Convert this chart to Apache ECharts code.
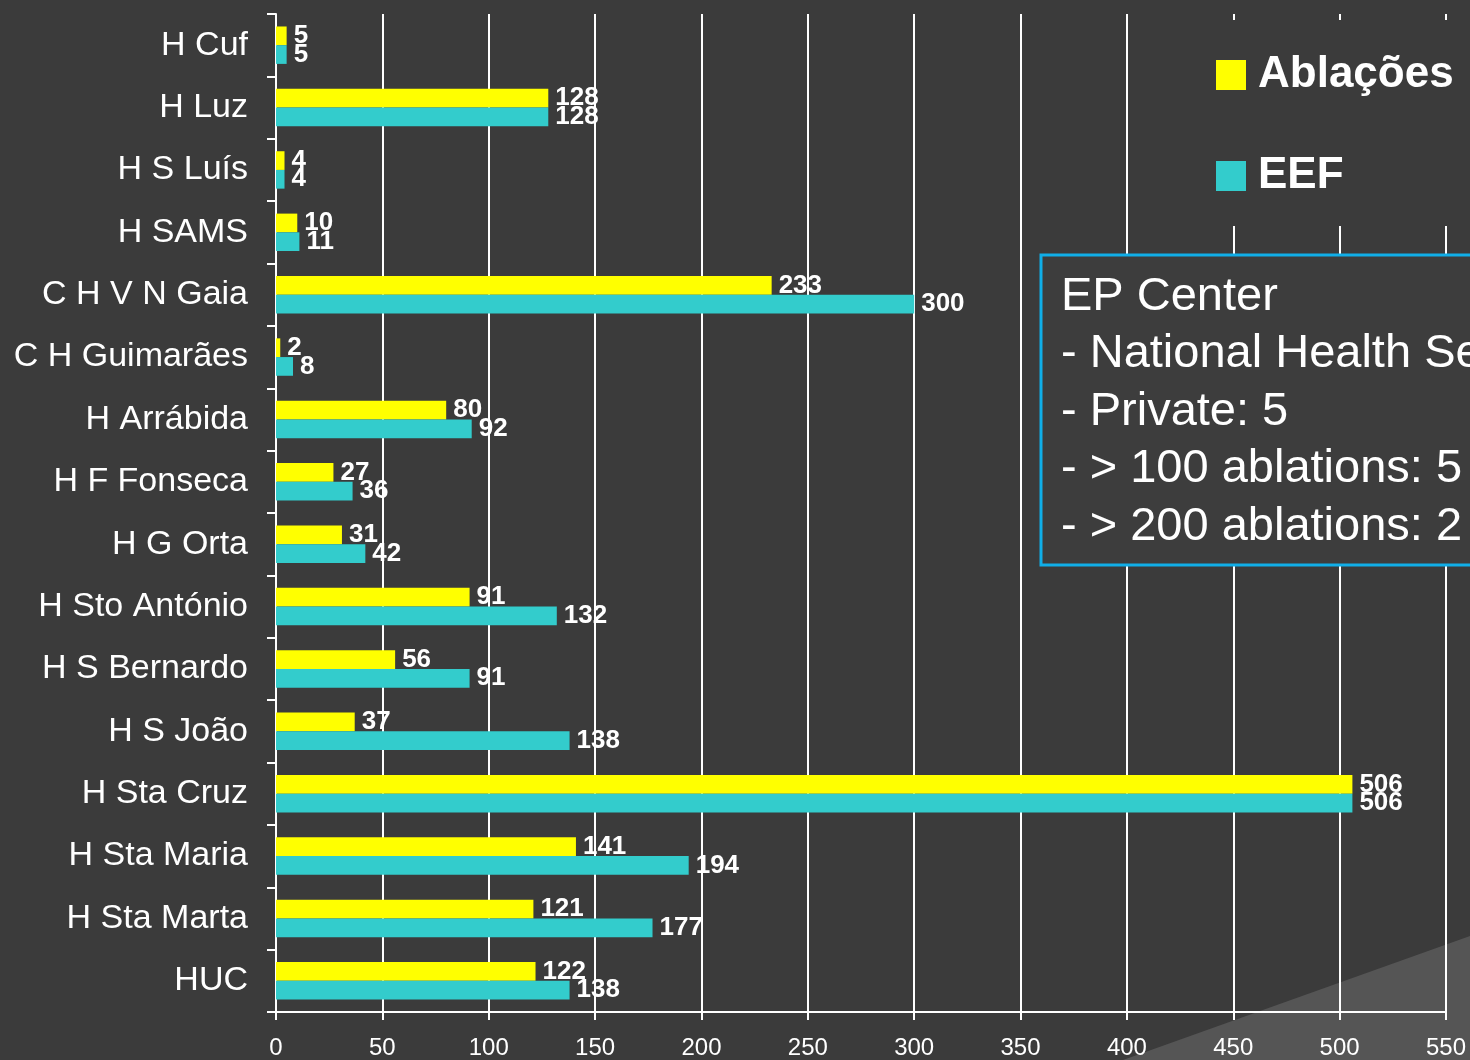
<!DOCTYPE html>
<html>
<head>
<meta charset="utf-8">
<script src="https://cdn.jsdelivr.net/npm/echarts@6/dist/echarts.min.js"></script>
<style>
  html, body { margin: 0; padding: 0; background: #3b3b3b; }
  #chart { width: 1470px; height: 1060px; }
</style>
</head>
<body>
<div id="chart"></div>
<script>
var hospitals = ['H Cuf', 'H Luz', 'H S Luís', 'H SAMS', 'C H V N Gaia', 'C H Guimarães',
    'H Arrábida', 'H F Fonseca', 'H G Orta', 'H Sto António', 'H S Bernardo',
    'H S João', 'H Sta Cruz', 'H Sta Maria', 'H Sta Marta', 'HUC'];
var ablacoes = [5, 128, 4, 10, 233, 2, 80, 27, 31, 91, 56, 37, 506, 141, 121, 122];
var eef = [5, 128, 4, 11, 300, 8, 92, 36, 42, 132, 91, 138, 506, 194, 177, 138];
var infoLines = ['EP Center', '- National Health Service: 11', '- Private: 5',
    '- > 100 ablations: 5', '- > 200 ablations: 2'];

var font = 'Liberation Sans, Arial, sans-serif';

function valueLabel() {
    return {
        show: true,
        position: 'right',
        distance: 7,
        color: '#fff',
        fontSize: 26,
        fontWeight: 'bold',
        fontFamily: font
    };
}

var chart = echarts.init(document.getElementById('chart'));
chart.setOption({
    backgroundColor: '#3b3b3b',
    animation: false,
    textStyle: { fontFamily: font },
    legend: {
        orient: 'vertical',
        left: 1176,
        top: 20,
        padding: [33, 40, 28, 40],
        backgroundColor: '#3b3b3b',
        itemWidth: 30,
        itemHeight: 30,
        itemGap: 57,
        icon: 'rect',
        textStyle: {
            color: '#fff', fontSize: 44, fontWeight: 'bold', lineHeight: 42,
            padding: [0, 0, 0, 7], fontFamily: font
        },
        data: ['Ablações', 'EEF']
    },
    grid: { left: 276, right: 24, top: 14, bottom: 48 },
    xAxis: {
        type: 'value',
        min: 0,
        max: 550,
        interval: 50,
        axisLine: { show: true, lineStyle: { color: '#fff', width: 2 } },
        axisTick: { show: true, length: 8, lineStyle: { color: '#fff', width: 2 } },
        splitLine: { show: true, lineStyle: { color: '#fff', width: 2 } },
        axisLabel: { color: '#fff', fontSize: 24, margin: 24, fontFamily: font }
    },
    yAxis: {
        type: 'category',
        inverse: true,
        data: hospitals,
        axisLine: { show: true, lineStyle: { color: '#fff', width: 2 } },
        axisTick: { show: true, length: 9, lineStyle: { color: '#fff', width: 2 } },
        axisLabel: { color: '#fff', fontSize: 34, margin: 28, fontFamily: font }
    },
    series: [
        {
            name: 'Ablações',
            type: 'bar',
            data: ablacoes,
            itemStyle: { color: '#ffff00' },
            barGap: '0%',
            barCategoryGap: '40%',
            label: valueLabel()
        },
        {
            name: 'EEF',
            type: 'bar',
            data: eef,
            itemStyle: { color: '#33cccc' },
            barGap: '0%',
            barCategoryGap: '40%',
            label: valueLabel()
        }
    ],
    graphic: [
        {
            type: 'polygon',
            z: -10,
            silent: true,
            shape: { points: [[1123, 1060], [1470, 936], [1470, 1060]] },
            style: { fill: '#555555' }
        },
        {
            type: 'rect',
            z: 100,
            silent: true,
            shape: { x: 1041, y: 255, width: 520, height: 310 },
            style: { fill: '#3d3d3d', stroke: '#10aee8', lineWidth: 3 }
        },
        {
            type: 'text',
            z: 101,
            silent: true,
            x: 1061,
            y: 268,
            style: {
                text: infoLines.join('\n'),
                fill: '#fff',
                fontSize: 47,
                lineHeight: 57.5,
                fontFamily: font
            }
        }
    ]
});
window.addEventListener('resize', function () {
    chart.resize();
});
</script>
</body>
</html>
